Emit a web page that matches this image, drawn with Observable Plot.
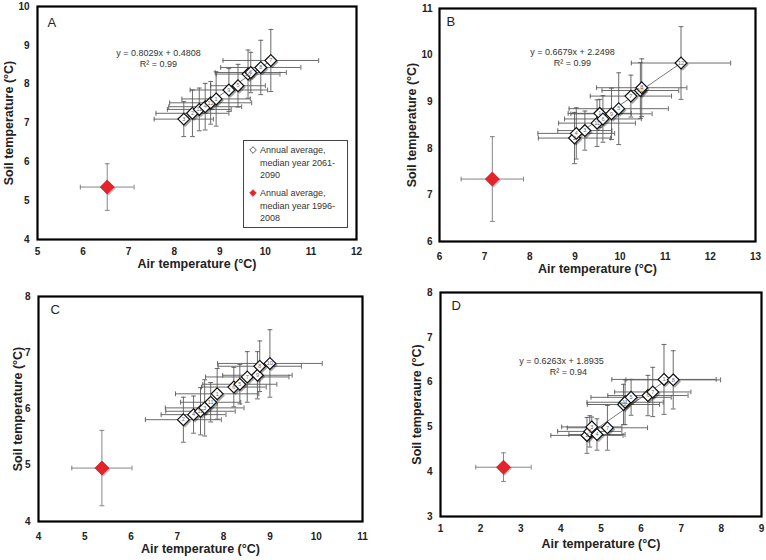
<!DOCTYPE html>
<html><head><meta charset="utf-8">
<script src="https://cdn.jsdelivr.net/npm/d3@7"></script>
<script src="https://cdn.jsdelivr.net/npm/@observablehq/plot@0.6"></script>
<style>
body{margin:0;background:#fff;}
#wrap{position:relative;width:766px;height:560px;overflow:hidden;font-family:"Liberation Sans",Arial,sans-serif;background:#fff;}
.panel{position:absolute;}
.panel svg{overflow:visible;}
.legend{position:absolute;border:1px solid #444;background:#fff;font-size:9px;line-height:12.5px;color:#333;box-sizing:border-box;padding:3px 2px 0 5px;}
.legend .row{display:flex;align-items:flex-start;}
.legend .row + .row{margin-top:5.5px;}
.legend svg{flex:none;margin-top:2px;margin-right:3px;}
</style></head>
<body><div id="wrap"></div>
<script>
// ---------- Panel A ----------
const airA     = [8.21, 8.40, 8.55, 8.68, 8.80, 8.92, 9.20, 9.40, 9.62, 9.68, 9.90, 10.12];
const soilA    = [7.10, 7.25, 7.35, 7.42, 7.52, 7.62, 7.85, 7.96, 8.26, 8.30, 8.43, 8.61];
const airErrA  = [0.65, 0.80, 0.70, 0.80, 0.90, 0.75, 0.85, 0.60, 0.70, 0.78, 0.88, 1.05];
const soilErrA = [0.45, 0.60, 0.55, 0.60, 0.55, 0.70, 0.55, 0.55, 0.62, 0.52, 0.70, 0.80];
const labelsA  = ["3","2","11","4","12","1","9","5","10","6","8","7"];
const refA     = {air: 6.53, soil: 5.35, airErr: 0.59, soilErr: 0.60};
const xTicksA  = [5, 6, 7, 8, 9, 10, 11, 12];
const yTicksA  = [4, 5, 6, 7, 8, 9, 10];
const eqA = "y = 0.8029x + 0.4808", r2A = "R² = 0.99", slopeA = 0.8029, interceptA = 0.4808;

// ---------- Panel B ----------
const airB     = [8.99, 9.03, 9.22, 9.49, 9.55, 9.62, 9.81, 9.97, 10.24, 10.45, 10.48, 11.35];
const soilB    = [8.22, 8.32, 8.38, 8.54, 8.75, 8.63, 8.74, 8.85, 9.12, 9.24, 9.30, 9.83];
const airErrB  = [0.80, 0.85, 0.60, 0.85, 0.70, 0.85, 0.90, 1.10, 0.90, 0.85, 1.00, 1.10];
const soilErrB = [0.55, 0.55, 0.42, 0.50, 0.30, 0.50, 0.55, 0.77, 0.45, 0.60, 0.62, 0.78];
const labelsB  = ["2","4","3","11","1","6","9","5","7","10","8","12"];
const refB     = {air: 7.17, soil: 7.34, airErr: 0.69, soilErr: 0.91};
const xTicksB  = [6, 7, 8, 9, 10, 11, 12, 13];
const yTicksB  = [6, 7, 8, 9, 10, 11];
const eqB = "y = 0.6679x + 2.2498", r2B = "R² = 0.99", slopeB = 0.6679, interceptB = 2.2498;

// ---------- Panel C ----------
const airC     = [7.13, 7.35, 7.50, 7.59, 7.72, 7.86, 8.22, 8.35, 8.51, 8.73, 8.78, 9.00];
const soilC    = [5.81, 5.90, 5.96, 6.02, 6.12, 6.27, 6.39, 6.44, 6.57, 6.60, 6.76, 6.81];
const airErrC  = [0.82, 0.70, 0.75, 0.85, 0.65, 0.90, 0.70, 0.80, 0.90, 0.75, 0.90, 1.13];
const soilErrC = [0.40, 0.33, 0.42, 0.50, 0.35, 0.45, 0.35, 0.35, 0.45, 0.42, 0.45, 0.60];
const labelsC  = ["2","4","12","3","11","1","6","5","7","9","8","10"];
const refC     = {air: 5.37, soil: 4.95, airErr: 0.65, soilErr: 0.67};
const xTicksC  = [4, 5, 6, 7, 8, 9, 10, 11];
const yTicksC  = [4, 5, 6, 7, 8];

// ---------- Panel D ----------
const airD     = [4.65, 4.72, 4.77, 4.90, 5.16, 5.56, 5.60, 5.75, 6.17, 6.29, 6.57, 6.80];
const soilD    = [4.81, 4.90, 5.00, 4.83, 4.98, 5.50, 5.55, 5.66, 5.70, 5.78, 6.06, 6.05];
const airErrD  = [0.90, 0.80, 0.75, 0.70, 1.00, 0.90, 0.95, 1.00, 1.00, 0.95, 1.30, 1.18];
const soilErrD = [0.40, 0.35, 0.22, 0.35, 0.50, 0.45, 0.50, 0.40, 0.45, 0.55, 0.78, 0.65];
const labelsD  = ["2","9","3","4","7","12","11","5","6","7","1","8"];
const refD     = {air: 2.57, soil: 4.10, airErr: 0.69, soilErr: 0.32};
const xTicksD  = [1, 2, 3, 4, 5, 6, 7, 8, 9];
const yTicksD  = [3, 4, 5, 6, 7, 8];
const eqD = "y = 0.6263x + 1.8935", r2D = "R² = 0.94", slopeD = 0.6263, interceptD = 1.8935;

const xTitle = "Air temperature (°C)";
const yTitleABC = "Soil temperature (°C)";
const yTitleD = "Soil temperaure (°C)";
const legendLines1 = ["Annual average,", "median year 2061-", "2090"];
const legendLines2 = ["Annual average,", "median year 1996-", "2008"];

// ---------- helpers ----------
const capV = {draw(ctx, size){ const r = Math.sqrt(size / Math.PI); ctx.moveTo(0, -r); ctx.lineTo(0, r); }};
const capH = {draw(ctx, size){ const r = Math.sqrt(size / Math.PI); ctx.moveTo(-r, 0); ctx.lineTo(r, 0); }};
const FONT = "'Liberation Sans', Arial, sans-serif";

function rows(air, soil, airErr, soilErr, labels){
  return air.map((a, i) => ({air: a, soil: soil[i], airErr: airErr[i], soilErr: soilErr[i], label: labels ? labels[i] : ""}));
}

function errorMarks(data, stroke){
  return [
    Plot.ruleY(data, {y: "soil", x1: d => d.air - d.airErr, x2: d => d.air + d.airErr, stroke, strokeWidth: 0.9}),
    Plot.ruleX(data, {x: "air", y1: d => d.soil - d.soilErr, y2: d => d.soil + d.soilErr, stroke, strokeWidth: 0.9}),
    Plot.dot(data, {x: d => d.air - d.airErr, y: "soil", symbol: capV, r: 2.4, fill: "none", stroke, strokeWidth: 0.9}),
    Plot.dot(data, {x: d => d.air + d.airErr, y: "soil", symbol: capV, r: 2.4, fill: "none", stroke, strokeWidth: 0.9}),
    Plot.dot(data, {x: "air", y: d => d.soil - d.soilErr, symbol: capH, r: 2.4, fill: "none", stroke, strokeWidth: 0.9}),
    Plot.dot(data, {x: "air", y: d => d.soil + d.soilErr, symbol: capH, r: 2.4, fill: "none", stroke, strokeWidth: 0.9})
  ];
}

function panel(cfg){
  const data = rows(cfg.air, cfg.soil, cfg.airErr, cfg.soilErr, cfg.labels);
  const ref = [cfg.ref];
  const marks = [];
  if (cfg.slope != null) {
    const ext = d3.extent(cfg.air);
    marks.push(Plot.line(ext, {x: d => d, y: d => cfg.slope * d + cfg.intercept, stroke: "#555", strokeWidth: 0.8}));
  }
  marks.push(...errorMarks(data, "#5a5a5a"));
  marks.push(...errorMarks(ref, "#777"));
  marks.push(Plot.dot(data, {x: "air", y: "soil", symbol: "diamond2", r: 5.6, fill: "#000", fillOpacity: 0.35, stroke: "none", dx: 1.6, dy: 1.6}));
  marks.push(Plot.dot(data, {x: "air", y: "soil", symbol: "diamond2", r: 5.3, fill: "white", stroke: "#111", strokeWidth: 1.2}));
  marks.push(Plot.text(data, {x: "air", y: "soil", text: "label", fontSize: 5.5, fill: "#666", fontWeight: "normal"}));
  marks.push(Plot.dot(ref, {x: "air", y: "soil", symbol: "diamond2", r: 6.4, fill: "#000", fillOpacity: 0.25, stroke: "none", dx: 1.4, dy: 1.4}));
  marks.push(Plot.dot(ref, {x: "air", y: "soil", symbol: "diamond2", r: 6.3, fill: "#e4232b", stroke: "#d01c24", strokeWidth: 0.8}));
  const common = {frameAnchor: "top-left", lineAnchor: "middle", fontWeight: "normal", text: d => d};
  if (cfg.eq) {
    marks.push(Plot.text([cfg.eq], {...common, dx: cfg.eqDx, dy: cfg.eqDy, fontSize: 9, fill: "#333", textAnchor: "middle"}));
    marks.push(Plot.text([cfg.r2], {...common, dx: cfg.r2Dx, dy: cfg.eqDy + 11, fontSize: 9, fill: "#333", textAnchor: "middle"}));
  }
  marks.push(Plot.text([cfg.letter], {...common, dx: cfg.letterDx, dy: cfg.letterDy, fontSize: 13, fill: "#222", textAnchor: "start"}));
  marks.push(Plot.text([xTitle], {frameAnchor: "bottom", lineAnchor: "middle", textAnchor: "middle", dy: cfg.xTitleDy, text: d => d, fontSize: 12.5, fontWeight: "bold", fill: "#222"}));
  marks.push(Plot.text([cfg.yTitle], {frameAnchor: "left", lineAnchor: "middle", textAnchor: "middle", dx: cfg.yTitleDx, text: d => d, rotate: -90, fontSize: 12.5, fontWeight: "bold", fill: "#222"}));
  marks.push(Plot.frame({stroke: "#000", strokeWidth: 2.2}));

  const p = Plot.plot({
    width: cfg.width, height: cfg.height,
    marginLeft: cfg.ml, marginRight: cfg.mr, marginTop: cfg.mt, marginBottom: cfg.mb,
    style: {fontFamily: FONT, fontSize: "10px", fontWeight: "bold", color: "#222", background: "transparent", overflow: "visible"},
    x: {domain: d3.extent(cfg.xTicks), ticks: cfg.xTicks, tickSize: 0, tickPadding: cfg.xPad, label: null, tickFormat: d3.format("d")},
    y: {domain: d3.extent(cfg.yTicks), ticks: cfg.yTicks, tickSize: 0, tickPadding: cfg.yPad, label: null, tickFormat: d3.format("d")},
    marks
  });
  const div = document.createElement("div");
  div.className = "panel";
  div.style.left = cfg.left + "px";
  div.style.top = cfg.top + "px";
  div.appendChild(p);
  document.getElementById("wrap").appendChild(div);
}

panel({left: 0, top: 0, width: 383, height: 280, ml: 37, mr: 27, mt: 6, mb: 41,
  air: airA, soil: soilA, airErr: airErrA, soilErr: soilErrA, labels: labelsA, ref: refA,
  xTicks: xTicksA, yTicks: yTicksA, xPad: 8, yPad: 8,
  slope: slopeA, intercept: interceptA, eq: eqA, r2: r2A, eqDx: 121, r2Dx: 121, eqDy: 47,
  letter: "A", letterDx: 10, letterDy: 16, xTitleDy: 24, yTitleDx: -29, yTitle: yTitleABC});

panel({left: 383, top: 0, width: 383, height: 280, ml: 56, mr: 11, mt: 8, mb: 39,
  air: airB, soil: soilB, airErr: airErrB, soilErr: soilErrB, labels: labelsB, ref: refB,
  xTicks: xTicksB, yTicks: yTicksB, xPad: 11, yPad: 7,
  slope: slopeB, intercept: interceptB, eq: eqB, r2: r2B, eqDx: 133, r2Dx: 133, eqDy: 44,
  letter: "B", letterDx: 7, letterDy: 13, xTitleDy: 27, yTitleDx: -28, yTitle: yTitleABC});

panel({left: 0, top: 280, width: 383, height: 280, ml: 38, mr: 21, mt: 16, mb: 39,
  air: airC, soil: soilC, airErr: airErrC, soilErr: soilErrC, labels: labelsC, ref: refC,
  xTicks: xTicksC, yTicks: yTicksC, xPad: 11, yPad: 8,
  letter: "C", letterDx: 12, letterDy: 13, xTitleDy: 27, yTitleDx: -21, yTitle: yTitleABC});

panel({left: 383, top: 280, width: 383, height: 280, ml: 57, mr: 5, mt: 12, mb: 44,
  air: airD, soil: soilD, airErr: airErrD, soilErr: soilErrD, labels: labelsD, ref: refD,
  xTicks: xTicksD, yTicks: yTicksD, xPad: 8, yPad: 8,
  slope: slopeD, intercept: interceptD, eq: eqD, r2: r2D, eqDx: 121, r2Dx: 128, eqDy: 69,
  letter: "D", letterDx: 11, letterDy: 13, xTitleDy: 27, yTitleDx: -24, yTitle: yTitleD});

// legend (inside panel A)
const lg = document.createElement("div");
lg.className = "legend";
lg.style.left = "243px"; lg.style.top = "140px"; lg.style.width = "105px"; lg.style.height = "88px";
function legendRow(lines, fill, stroke){
  const r = document.createElement("div");
  r.className = "row";
  r.innerHTML = `<svg width="8" height="8" viewBox="-4 -4 8 8"><path d="M0,-3.3L3.3,0L0,3.3L-3.3,0Z" fill="${fill}" stroke="${stroke}" stroke-width="0.8"/></svg><div>${lines.join("<br>")}</div>`;
  return r;
}
lg.appendChild(legendRow(legendLines1, "white", "#333"));
lg.appendChild(legendRow(legendLines2, "#e4232b", "#e4232b"));
document.getElementById("wrap").appendChild(lg);
</script>
</body></html>
